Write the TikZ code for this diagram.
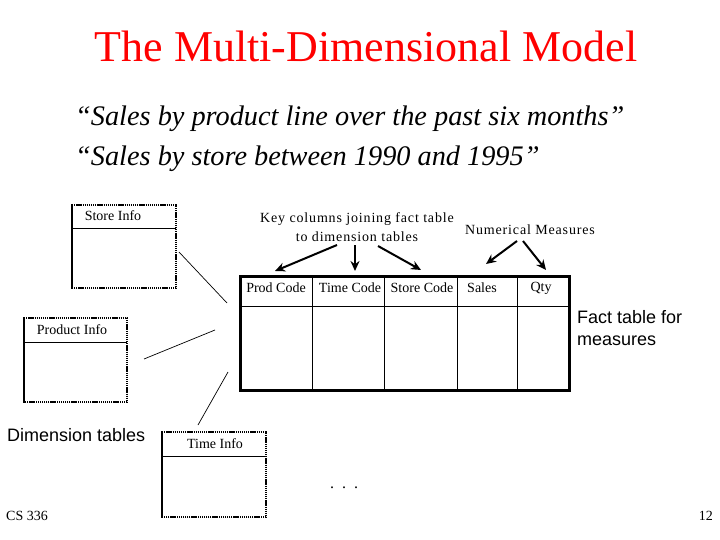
\documentclass[tikz,border=0pt]{standalone}
\usepackage{fontspec}
\setmainfont{Liberation Serif}
\newfontfamily\arial{Liberation Sans}
\newfontfamily\spaced[LetterSpace=6]{Liberation Serif}
\usetikzlibrary{arrows.meta}
\tikzset{
  dimleft/.style={line width=2.8pt},
  dimdot/.style={line width=2.6pt, dash pattern=on 1.3pt off 0.8pt},
  thinl/.style={line width=0.8pt},
  keyarrow/.style={line width=2pt, -{Stealth[length=10pt,width=9pt]}},
  lbl/.style={font=\fontsize{14}{16}\selectfont, inner sep=0pt},
}
\begin{document}
\begin{tikzpicture}[x=1pt,y=-1pt]
\useasboundingbox (0,0) rectangle (720,540);
% title
\node[text=red, font=\fontsize{44}{48}\selectfont, inner sep=0pt] (title) at (366,46) {The Multi-Dimensional Model};
\node[anchor=west, font=\itshape\fontsize{28.3}{32}\selectfont, inner sep=0pt] (s1) at (75,119) {“Sales by product line over the past six months”};
\node[anchor=west, font=\itshape\fontsize{28.3}{32}\selectfont, inner sep=0pt] (s2) at (75,159) {“Sales by store between 1990 and 1995”};

% Store Info box
\draw[dimdot] (72,205) -- (176,205) -- (176,288) -- (72,288);
\draw[dimleft] (72,204) -- (72,289);
\draw[thinl] (72,228) -- (176,228);
\node[lbl] (store) at (113,216) {Store Info};

% Product Info box
\draw[dimdot] (24,318) -- (127,318) -- (127,402) -- (24,402);
\draw[dimleft] (24,317) -- (24,403);
\draw[thinl] (24,342) -- (127,342);
\node[lbl] (prod) at (72,330) {Product Info};

% Time Info box
\draw[dimdot] (162,432) -- (266,432) -- (266,517) -- (162,517);
\draw[dimleft] (162,431) -- (162,518);
\draw[thinl] (162,456) -- (266,456);
\node[lbl] (time) at (215,444) {Time Info};

% Fact table
\draw[thinl] (240,306) -- (569,306);
\foreach \x in {312,384,457,517} \draw[thinl] (\x,276) -- (\x,390);
\draw[line width=3pt] (240,276) rectangle (569,390);
\node[lbl] (pc) at (276,288) {Prod Code};
\node[lbl] (tc) at (350,288) {Time Code};
\node[lbl] (sc) at (422,288) {Store Code};
\node[lbl] (sa) at (482,288) {Sales};
\node[lbl] (qt) at (541,288) {Qty};

% labels
\node[lbl, align=center, font=\spaced\fontsize{14}{19}\selectfont] (key) at (357,227) {Key columns joining fact table\\to dimension tables};
\node[lbl, font=\spaced\fontsize{14}{16}\selectfont] (num) at (530,230) {Numerical Measures};

% arrows
\coordinate (k1) at (337,245); \coordinate (k1e) at (275,271);
\coordinate (k2) at (355,245); \coordinate (k2e) at (355,271);
\coordinate (k3) at (378,246); \coordinate (k3e) at (421,270);
\coordinate (n1) at (517,241); \coordinate (n1e) at (486,264);
\coordinate (n2) at (523,241); \coordinate (n2e) at (546,270);
\draw[keyarrow] (k1) -- (k1e);
\draw[keyarrow] (k2) -- (k2e);
\draw[keyarrow] (k3) -- (k3e);
\draw[keyarrow] (n1) -- (n1e);
\draw[keyarrow] (n2) -- (n2e);

% connectors
\coordinate (c1a) at (179,252); \coordinate (c1b) at (227,303);
\coordinate (c2a) at (144,359); \coordinate (c2b) at (215,330);
\coordinate (c3a) at (198,425); \coordinate (c3b) at (228,372);
\draw[line width=0.7pt] (c1a) -- (c1b);
\draw[line width=0.7pt] (c2a) -- (c2b);
\draw[line width=0.7pt] (c3a) -- (c3b);

% other text
\node[anchor=west, align=left, font=\arial\fontsize{18}{22}\selectfont, inner sep=0pt] (fact) at (577,328) {Fact table for\\measures};
\node[anchor=west, font=\arial\fontsize{18}{20}\selectfont, inner sep=0pt] (dim) at (7,435) {Dimension tables};
\node[lbl, font=\fontsize{16}{18}\selectfont] (dots) at (344,488) {.\ \ .\ \ .};
\node[anchor=west, lbl] (cs) at (6,516) {CS 336};
\node[anchor=east, lbl] (pg) at (713,516) {12};
\end{tikzpicture}
\end{document}
